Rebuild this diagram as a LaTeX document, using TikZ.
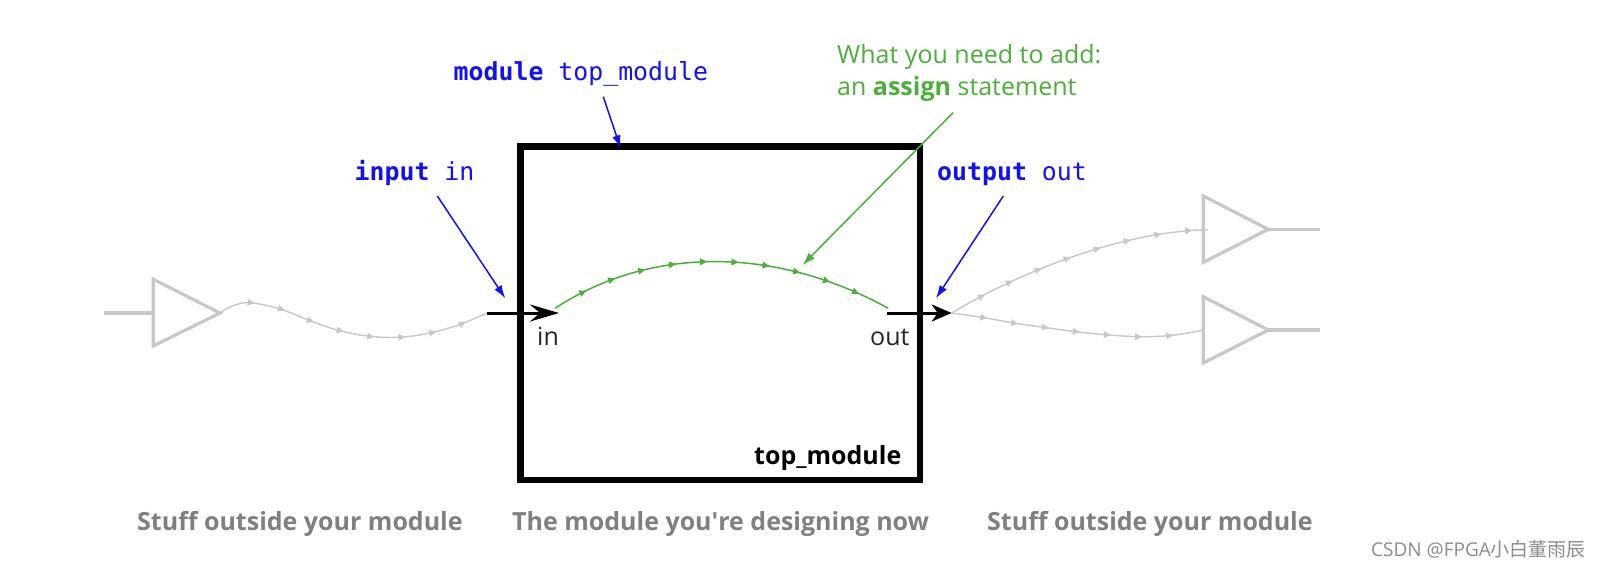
\documentclass[tikz,border=0pt]{standalone}
\usepackage{fontspec}
\setmainfont{Open Sans}
\setmonofont{DejaVu Sans Mono}
\newfontfamily\cjk{Noto Sans CJK SC}
\usetikzlibrary{arrows.meta,decorations.markings}
\definecolor{wiregrey}{HTML}{C8C8C8}
\definecolor{labgrey}{HTML}{808080}
\definecolor{addgreen}{HTML}{4CAF3A}
\definecolor{declblue}{HTML}{1010FF}
\tikzset{
  greytick/.style={postaction={decorate,decoration={markings,
     mark=between positions #1 and -12pt step 31.2pt with {\arrow{Triangle[length=7pt,width=6.5pt,color=wiregrey]}}}}},
  greentick/.style={postaction={decorate,decoration={markings,
     mark=between positions 36pt and -12pt step 31.3pt with {\arrow{Triangle[length=7pt,width=6.5pt,color=addgreen]}}}}},
  thinwire/.style={draw=wiregrey,line width=1.4pt},
  buffer/.style={draw=wiregrey,line width=3.2pt,line join=miter},
  lead/.style={draw=wiregrey,line width=3.2pt},
  portarrow/.style={draw=black,line width=3pt},
  callout/.style={draw=declblue,line width=1.5pt,-{Latex[length=13pt,width=8.5pt]}},
  greencall/.style={draw=addgreen,line width=1.5pt,-{Latex[length=13pt,width=8.5pt]}},
  mono/.style={anchor=base west,inner sep=0pt,text=declblue,font=\fontsize{24.85}{28}\selectfont\ttfamily},
  label/.style={anchor=base west,inner sep=0pt,text=labgrey,font=\fontsize{25}{30}\selectfont\bfseries},
  portlab/.style={anchor=base west,inner sep=0pt,text=black!85,font=\fontsize{25}{30}\selectfont},
  greentext/.style={anchor=base west,inner sep=0pt,text=addgreen,font=\fontsize{25}{30}\selectfont},
}
\begin{document}
\begin{tikzpicture}[x=1pt,y=-1pt]
\useasboundingbox[fill=white] (0,0) rectangle (1603,568);
% coordinates
\coordinate (lbuftop) at (153.3,279.3);
\coordinate (lbufbot) at (153.3,346);
\coordinate (lbuftip) at (220,313);
\coordinate (leadin) at (104,313);
\coordinate (leadinend) at (153.3,313);
\coordinate (inA) at (487.3,313);
\coordinate (inB) at (559,313);
\coordinate (outA) at (886.7,313);
\coordinate (outB) at (951.7,313);
\coordinate (ubuftop) at (1203.3,196);
\coordinate (ubufbot) at (1203.3,262.3);
\coordinate (ubuftip) at (1268.3,229.3);
\coordinate (uleadend) at (1320,229.3);
\coordinate (dbuftop) at (1203.3,296.7);
\coordinate (dbufbot) at (1203.3,363);
\coordinate (dbuftip) at (1268.3,330);
\coordinate (dleadend) at (1320,330);
\coordinate (uin) at (1208,229.7);
\coordinate (dinp) at (1203.3,330);
\coordinate (gA) at (555,308.3);
\coordinate (gB) at (888.3,308.3);
\coordinate (inTo) at (505.3,298.3);
\coordinate (inFrom) at (437.3,196);
\coordinate (outTo) at (936,298.3);
\coordinate (outFrom) at (1003.3,196);
\coordinate (modTo) at (620.6,148.3);
\coordinate (modFrom) at (603.3,96.7);
\coordinate (addFrom) at (953,112.7);
\coordinate (addTo) at (802.5,265);
% grey wires
\draw[thinwire,greytick=37pt] plot[smooth,tension=0.6] coordinates {(lbuftip) (232,306) (250,302.7) (279.3,308.7) (308.3,320) (337.3,330) (367.7,336) (398.3,337.3) (428.3,333.3) (458.3,325) (inA)};
\draw[thinwire,greytick=38pt] (outB) .. controls (1030,266) and (1130,231) .. (uin);
\draw[thinwire,greytick=36pt] plot[smooth,tension=0.6] coordinates {(outB) (984,317.7) (1015.7,323.3) (1046.7,327.7) (1078,332) (1109.3,335) (1141,336.7) (1172.3,335.3) (dinp)};
% buffers
\draw[lead] (leadin) -- (leadinend);
\draw[buffer] (lbuftop) -- (lbufbot) -- (lbuftip) -- cycle;
\draw[buffer] (ubuftop) -- (ubufbot) -- (ubuftip) -- cycle;
\draw[lead] (ubuftip) -- (uleadend);
\draw[buffer] (dbuftop) -- (dbufbot) -- (dbuftip) -- cycle;
\draw[lead] (dbuftip) -- (dleadend);
% module box
\node[draw=black,line width=6.7pt,outer sep=0pt,minimum width=399.3pt,minimum height=333.3pt,inner sep=0pt,anchor=north west] (box) at (520.7,146.7) {};
% green wire
\draw[draw=addgreen,line width=1.5pt,greentick] (gA) .. controls (650,246) and (775,246) .. (gB);
% port arrows
\draw[portarrow,-{Stealth[length=29pt,width=17pt,inset=10pt]}] (inA) -- (inB);
\draw[portarrow,-{Stealth[length=20pt,width=17pt,inset=6pt]}] (outA) -- (outB);
% callouts
\draw[callout] (inFrom) -- (inTo);
\draw[callout] (outFrom) -- (outTo);
\draw[callout] (modFrom) -- (modTo);
\draw[greencall] (addFrom) -- (addTo);
% texts
\node[mono] (tmod) at (453.5,80) {\textbf{module} top\_module};
\node[mono] (tin) at (354.5,180) {\textbf{input} in};
\node[mono] (tout) at (937,180) {\textbf{output} out};
\node[greentext] (tadd1) at (837,63) {What you need to add:};
\node[greentext] (tadd2) at (837,95) {an \textbf{assign} statement};
\node[portlab] (lin) at (537,345) {in};
\node[portlab] (lout) at (870,345) {out};
\node[portlab,text=black,font=\fontsize{25}{30}\selectfont\bfseries] (ltop) at (754,464) {top\_module};
\node[label] (l1) at (137,530) {Stuff outside your module};
\node[label] (l2) at (512,530) {The module you\textquotesingle re designing now};
\node[label] (l3) at (987,530) {Stuff outside your module};
\node[anchor=base west,inner sep=0pt,text=black!45,font=\fontsize{19}{21}\selectfont] (wm) at (1371,556) {CSDN @FPGA{\cjk 小白董雨辰}};
\end{tikzpicture}
\end{document}
